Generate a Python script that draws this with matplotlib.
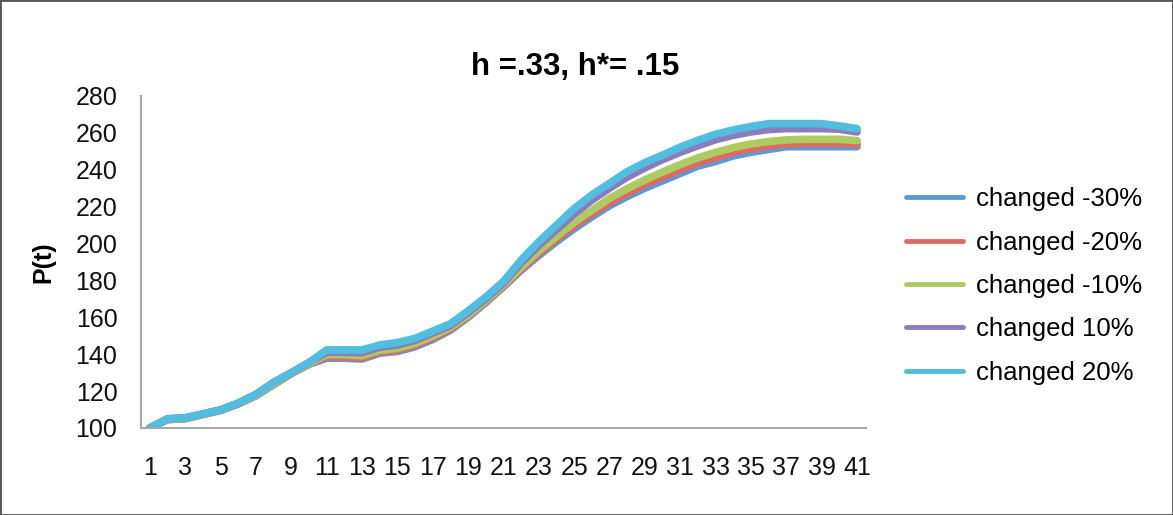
import matplotlib
matplotlib.use("Agg")
import matplotlib.pyplot as plt
from matplotlib.patches import Rectangle

plt.rcParams['font.family'] = ['Liberation Sans', 'DejaVu Sans']

t = list(range(1, 42))

minus30 = [100, 104.5, 105, 107.3, 109.5, 113, 117.5, 123.5, 129.5, 134.5,
           137.8, 137.8, 137.4, 140.5, 141.5, 144, 148, 153, 160, 168,
           176.5, 185.5, 193.5, 201, 208, 214.5, 220.5, 225.5, 230, 234,
           238, 242, 244.5, 247.5, 249.5, 251, 252.5, 252.5, 252.5, 252.5, 252.5]
minus20 = [100, 104.6, 105.1, 107.4, 109.6, 113.1, 117.6, 123.6, 129.6, 134.7,
           138.5, 138.5, 138, 141.2, 142.2, 144.8, 148.8, 153.6, 160.5, 168.5,
           177, 186, 194.5, 202.2, 209.5, 216, 222, 227.3, 232, 236,
           240, 243.8, 246.6, 249.5, 251.5, 253, 254, 254.2, 254.2, 254.2, 253.8]
minus10 = [100, 104.7, 105.2, 107.5, 109.7, 113.3, 117.8, 123.9, 129.8, 134.9,
           139.8, 139.8, 139.2, 142.2, 143.2, 145.8, 149.8, 154.5, 161.2, 169,
           177.5, 187, 196, 203.8, 211.5, 218, 224.5, 229.8, 234.5, 238.8,
           242.8, 246.5, 249.5, 252, 254, 255.3, 256.2, 256.5, 256.5, 256.5, 255.8]
plus10 = [100, 105, 105.5, 107.6, 109.8, 113.5, 118.3, 124.8, 130, 135.5,
          141, 141, 140.8, 143.8, 145, 147.5, 151.5, 155.5, 162.5, 170,
          178.5, 189.5, 199, 207.5, 216, 223.5, 230, 236, 241, 245.5,
          249.5, 253, 256.3, 258.7, 260.5, 261.8, 262.3, 262.3, 262.3, 262, 260.5]
plus20 = [100, 105, 105.5, 107.6, 109.8, 113.5, 118, 124.5, 130, 135.5,
          142.3, 142.3, 142.3, 145, 146.3, 148.6, 152.5, 156.5, 163.5, 171,
          179.5, 191, 201, 210, 219, 226.4, 232.7, 239, 243.9, 248,
          252.3, 256, 259.3, 261.6, 263.5, 265, 265, 265, 265, 263.8, 262.3]

labels = ['changed -30%', 'changed -20%', 'changed -10%', 'changed 10%', 'changed 20%']
series = [minus30, minus20, minus10, plus10, plus20]
colors = ['#5b9bd5', '#de6b63', '#adcb62', '#8c7cba', '#52bdde']

fig = plt.figure(figsize=(11.73, 5.15), dpi=100)
ax = fig.add_axes([0.1202, 0.169, 0.618, 0.6446])

for y, lab, c in zip(series, labels, colors):
    ax.plot(t, y, color=c, lw=5.5, label=lab, solid_capstyle='round', solid_joinstyle='round')

ax.set_xlim(0.5, 41.5)
ax.set_ylim(100, 280)
ax.set_yticks(range(100, 281, 20))
ax.set_xticks(t[::2])
ax.tick_params(axis='both', length=0, labelsize=18, colors='#111111')
ax.tick_params(axis='y', pad=17)
ax.tick_params(axis='x', pad=20)
for s in ['top', 'right']:
    ax.spines[s].set_visible(False)
for s in ['left', 'bottom']:
    ax.spines[s].set_color('#a6a6a6')
    ax.spines[s].set_linewidth(1.5)

fig.text(575 / 1173, 1 - 67 / 515, 'h =.33, h*= .15', ha='center', va='center',
         fontsize=22.5, fontweight='bold')
fig.text(43 / 1173, 1 - 262 / 515, 'P(t)', ha='center', va='center', rotation=90,
         fontsize=18, fontweight='bold')

leg = fig.legend(loc='center left', bbox_to_anchor=(883 / 1173, 1 - 286 / 515),
                 frameon=False, fontsize=18.5, handlelength=2.2, handletextpad=0.5,
                 labelspacing=0.75)
for line in leg.get_lines():
    line.set_linewidth(3.5)

fig.patches.append(Rectangle((0, 0), 1, 1, transform=fig.transFigure, fill=False,
                             edgecolor='#555555', lw=2))

fig.savefig('out.png', dpi=100)
